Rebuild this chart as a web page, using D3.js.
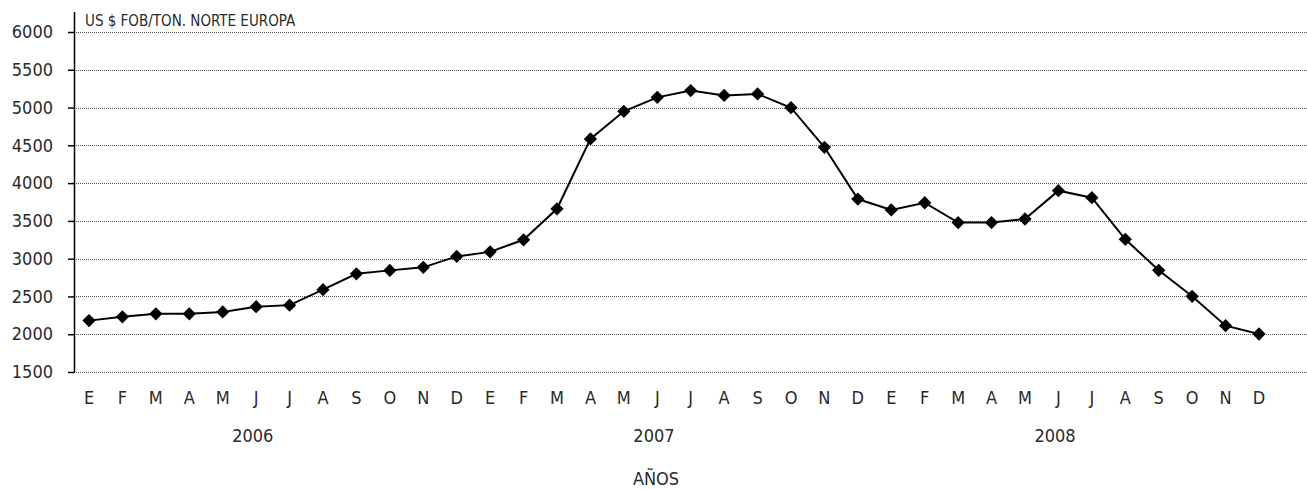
<!DOCTYPE html>
<html>
<head>
<meta charset="utf-8">
<script src="https://d3js.org/d3.v7.min.js"></script>
<style>
  body { margin: 0; background: #fff; }
  svg { display: block; }
  text { font-family: "DejaVu Sans Condensed", "DejaVu Sans", sans-serif; font-stretch: condensed; fill: #2a2a2a; }
</style>
</head>
<body>
<svg id="chart" width="1307" height="489"></svg>
<script>
// precio FOB norte de Europa, mensual 2006-2008
var months = ["E", "F", "M", "A", "M", "J", "J", "A", "S", "O", "N", "D"];
var years = ["2006", "2007", "2008"];
var yTicks = [1500, 2000, 2500, 3000, 3500, 4000, 4500, 5000, 5500, 6000];
var prices = [
  2180, 2230, 2270, 2270, 2295, 2365, 2385, 2590, 2800, 2845, 2885, 3030,
  3090, 3250, 3660, 4585, 4950, 5135, 5225, 5160, 5180, 4998, 4474, 3789,
  3645, 3740, 3478, 3478, 3525, 3900, 3807, 3256, 2846, 2502, 2113, 2003
];
var unitLabel = "US $ FOB/TON. NORTE EUROPA";
var axisTitle = "AÑOS";

var svg = d3.select("#chart");
var plotLeft = 74, plotTop = 32, plotBottom = 372, plotRight = 1307;

var x = d3.scalePoint()
    .domain(d3.range(prices.length))
    .range([89, 1259]);
// same mapping but continuous, for the year labels
var xl = d3.scaleLinear()
    .domain([0, prices.length - 1])
    .range([89, 1259]);

var y = d3.scaleLinear()
    .domain([1500, 6000])
    .range([plotBottom, plotTop]);

// dotted gridlines
svg.append("g")
  .selectAll("line")
  .data(yTicks)
  .enter().append("line")
    .attr("x1", plotLeft)
    .attr("x2", plotRight)
    .attr("y1", function(d) { return Math.round(y(d)) + 0.5; })
    .attr("y2", function(d) { return Math.round(y(d)) + 0.5; })
    .attr("stroke", "#555")
    .attr("stroke-dasharray", "1,1");

// y axis
var yAxis = svg.append("g")
    .attr("transform", "translate(" + plotLeft + ",0)")
    .call(d3.axisLeft(y).tickValues(yTicks).tickSize(6).tickPadding(15).tickFormat(d3.format("d")));
yAxis.select(".domain")
    .attr("d", "M0.5,12V" + (plotBottom + 0.5))
    .attr("stroke", "#000")
    .attr("stroke-width", 1.5);
yAxis.selectAll(".tick line").attr("stroke", "#000").attr("stroke-width", 1.5);
yAxis.selectAll(".tick text")
    .attr("font-family", null)
    .style("font-size", "18px")
    .attr("fill", "#2a2a2a");

svg.append("text")
    .attr("x", 85)
    .attr("y", 26)
    .style("font-size", "15px")
    .text(unitLabel);

// month labels
svg.append("g")
  .selectAll("text")
  .data(prices)
  .enter().append("text")
    .attr("x", function(d, i) { return x(i); })
    .attr("y", 404)
    .attr("text-anchor", "middle")
    .style("font-size", "18px")
    .text(function(d, i) { return months[i % 12]; });

// year labels
svg.append("g")
  .selectAll("text")
  .data(years)
  .enter().append("text")
    .attr("x", function(d, i) { return xl(i * 12 + 4.9); })
    .attr("y", 442)
    .attr("text-anchor", "middle")
    .style("font-size", "18px")
    .text(function(d) { return d; });

svg.append("text")
    .attr("x", 656)
    .attr("y", 485)
    .attr("text-anchor", "middle")
    .style("font-size", "18px")
    .text(axisTitle);

// series
var line = d3.line()
    .x(function(d, i) { return x(i); })
    .y(function(d) { return y(d); });

svg.append("path")
    .datum(prices)
    .attr("fill", "none")
    .attr("stroke", "#000")
    .attr("stroke-width", 2)
    .attr("d", line);

var diamond = d3.symbol().type(d3.symbolSquare).size(88);
svg.append("g")
  .selectAll("path")
  .data(prices)
  .enter().append("path")
    .attr("transform", function(d, i) { return "translate(" + x(i) + "," + y(d) + ") rotate(45)"; })
    .attr("d", diamond)
    .attr("fill", "#000");
</script>
</body>
</html>
